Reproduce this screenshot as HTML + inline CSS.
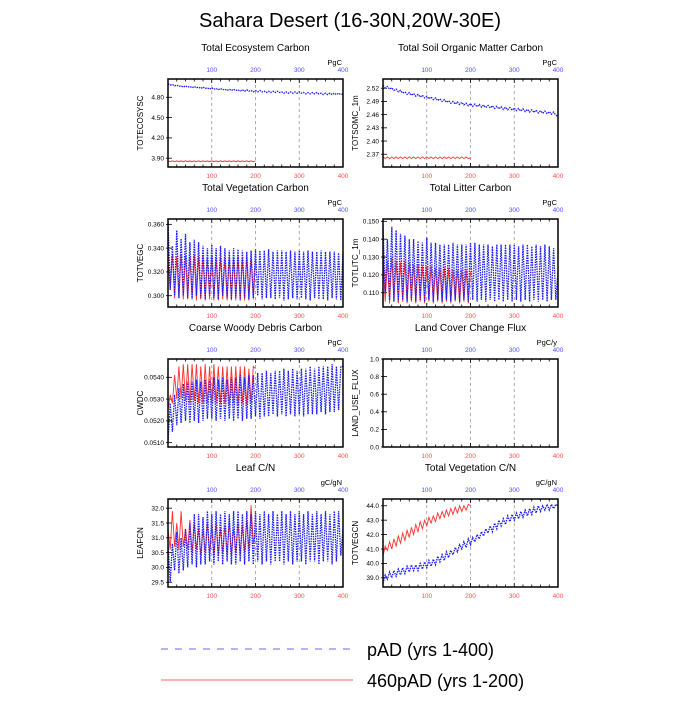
<!DOCTYPE html>
<html><head><meta charset="utf-8"><style>
body{margin:0;background:#fff;}
svg text{font-family:"Liberation Sans",sans-serif;}
</style></head><body>
<svg id="chart" width="700" height="700" viewBox="0 0 700 700" xmlns="http://www.w3.org/2000/svg">
<text x="350" y="27" font-size="20" text-anchor="middle">Sahara Desert (16-30N,20W-30E)</text>
<g id="panels"></g>
<g>
<line x1="161" y1="649" x2="353" y2="649" stroke="#6a6aee" stroke-width="1" stroke-dasharray="7,7"/>
<text x="367" y="656" font-size="18">pAD (yrs 1-400)</text>
<line x1="161" y1="680" x2="353" y2="680" stroke="#ff6060" stroke-width="1"/>
<text x="367" y="687" font-size="18">460pAD (yrs 1-200)</text>
</g>
</svg>
<script>
const titles=["Total Ecosystem Carbon","Total Soil Organic Matter Carbon","Total Vegetation Carbon","Total Litter Carbon","Coarse Woody Debris Carbon","Land Cover Change Flux","Leaf C/N","Total Vegetation C/N"];
const ytitles=["TOTECOSYSC","TOTSOMC_1m","TOTVEGC","TOTLITC_1m","CWDC","LAND_USE_FLUX","LEAFCN","TOTVEGCN"];
const units=["PgC","PgC","PgC","PgC","PgC","PgC/y","gC/gN","gC/gN"];
const yRanges=[[3.77,5.07],[2.341,2.541],[0.2905,0.3645],[0.102,0.1513],[0.0508,0.05484],[0,1],[29.34,32.31],[38.36,44.47]];
const yTicks=[[3.90,4.20,4.50,4.80],[2.37,2.40,2.43,2.46,2.49,2.52],[0.300,0.320,0.340,0.360],[0.110,0.120,0.130,0.140,0.150],[0.0510,0.0520,0.0530,0.0540],[0,0.2,0.4,0.6,0.8,1.0],[29.5,30.0,30.5,31.0,31.5,32.0],[39,40,41,42,43,44]];
const yDec=[2,2,3,3,4,1,1,1];
const xTicks=[100,200,300,400];
const blueStep=5, redStep=5;
const blue1=[5.00,4.98,4.99,4.97,4.98,4.96,4.97,4.95,4.97,4.95,4.96,4.94,4.96,4.94,4.95,4.93,4.95,4.93,4.94,4.92,4.94,4.92,4.93,4.91,4.93,4.91,4.92,4.90,4.92,4.90,4.92,4.90,4.91,4.89,4.91,4.89,4.91,4.89,4.90,4.88,4.90,4.88,4.90,4.88,4.89,4.87,4.89,4.87,4.89,4.87,4.89,4.87,4.88,4.86,4.88,4.86,4.88,4.86,4.88,4.86,4.88,4.86,4.87,4.85,4.87,4.85,4.87,4.85,4.87,4.85,4.86,4.84,4.86,4.84,4.86,4.84,4.86,4.84,4.86,4.84,4.85];
const red1=[3.86,3.85,3.86,3.85,3.86,3.85,3.86,3.85,3.86,3.85,3.86,3.85,3.86,3.85,3.86,3.85,3.86,3.85,3.86,3.85,3.86,3.85,3.86,3.85,3.86,3.85,3.86,3.85,3.86,3.85,3.86,3.85,3.86,3.85,3.86,3.85,3.86,3.85,3.86,3.85,3.86];
const blue2=[2.527,2.521,2.524,2.518,2.521,2.515,2.518,2.512,2.515,2.509,2.512,2.506,2.510,2.504,2.508,2.502,2.506,2.500,2.504,2.498,2.502,2.496,2.500,2.494,2.498,2.492,2.496,2.490,2.494,2.488,2.492,2.486,2.490,2.484,2.489,2.483,2.488,2.482,2.486,2.480,2.485,2.479,2.484,2.478,2.483,2.477,2.482,2.476,2.481,2.475,2.480,2.474,2.479,2.473,2.478,2.472,2.477,2.471,2.476,2.470,2.475,2.469,2.474,2.468,2.473,2.467,2.472,2.466,2.471,2.465,2.470,2.464,2.469,2.463,2.468,2.462,2.467,2.461,2.466,2.459,2.456];
const red2=[2.364,2.360,2.364,2.360,2.364,2.360,2.364,2.360,2.364,2.360,2.364,2.360,2.364,2.360,2.364,2.360,2.364,2.360,2.364,2.360,2.364,2.360,2.364,2.360,2.364,2.360,2.364,2.360,2.364,2.360,2.364,2.360,2.364,2.360,2.364,2.360,2.364,2.360,2.364,2.360,2.362];
const blue3=[0.362,0.305,0.342,0.300,0.355,0.298,0.348,0.300,0.352,0.298,0.345,0.297,0.347,0.300,0.345,0.298,0.342,0.297,0.340,0.300,0.343,0.298,0.340,0.297,0.342,0.300,0.340,0.298,0.338,0.297,0.340,0.298,0.339,0.296,0.338,0.298,0.337,0.297,0.338,0.298,0.339,0.300,0.338,0.297,0.338,0.298,0.339,0.298,0.337,0.297,0.338,0.298,0.338,0.296,0.337,0.297,0.338,0.298,0.337,0.297,0.338,0.298,0.337,0.297,0.338,0.296,0.337,0.298,0.337,0.297,0.338,0.297,0.337,0.296,0.337,0.298,0.337,0.297,0.336,0.296,0.336];
const red3=[0.330,0.305,0.335,0.298,0.333,0.298,0.335,0.297,0.334,0.297,0.333,0.298,0.334,0.296,0.333,0.297,0.333,0.296,0.332,0.297,0.333,0.296,0.332,0.296,0.333,0.297,0.332,0.296,0.333,0.296,0.332,0.296,0.333,0.296,0.332,0.296,0.333,0.296,0.332,0.297,0.330];
const blue4=[0.148,0.110,0.140,0.106,0.147,0.105,0.145,0.105,0.143,0.106,0.142,0.105,0.140,0.106,0.140,0.105,0.139,0.106,0.138,0.105,0.141,0.106,0.138,0.105,0.138,0.106,0.137,0.105,0.137,0.106,0.137,0.105,0.138,0.106,0.137,0.105,0.137,0.106,0.137,0.105,0.138,0.106,0.138,0.105,0.137,0.106,0.137,0.105,0.137,0.106,0.136,0.105,0.137,0.106,0.137,0.105,0.137,0.106,0.137,0.105,0.137,0.106,0.136,0.105,0.137,0.106,0.137,0.105,0.136,0.106,0.137,0.105,0.136,0.106,0.137,0.105,0.136,0.106,0.135,0.106,0.122];
const red4=[0.130,0.105,0.128,0.104,0.130,0.105,0.128,0.104,0.127,0.105,0.128,0.104,0.127,0.105,0.126,0.104,0.126,0.105,0.125,0.104,0.125,0.105,0.125,0.104,0.124,0.105,0.124,0.104,0.124,0.105,0.124,0.104,0.123,0.105,0.123,0.104,0.123,0.105,0.123,0.104,0.122];
const blue5=[0.0510,0.0528,0.0515,0.0532,0.0518,0.0535,0.0519,0.0537,0.0520,0.0538,0.0519,0.0538,0.0520,0.0539,0.0519,0.0538,0.0520,0.0539,0.0521,0.0539,0.0521,0.0540,0.0520,0.0539,0.0521,0.0540,0.0520,0.0539,0.0521,0.0540,0.0520,0.0540,0.0521,0.0541,0.0520,0.0540,0.0521,0.0541,0.0521,0.0541,0.0522,0.0542,0.0521,0.0542,0.0522,0.0543,0.0522,0.0542,0.0523,0.0543,0.0522,0.0543,0.0523,0.0544,0.0522,0.0543,0.0523,0.0544,0.0522,0.0543,0.0523,0.0544,0.0522,0.0544,0.0523,0.0545,0.0523,0.0544,0.0523,0.0545,0.0524,0.0545,0.0523,0.0545,0.0524,0.0546,0.0524,0.0545,0.0525,0.0545,0.0545];
const red5=[0.0525,0.0532,0.0528,0.0541,0.0530,0.0545,0.0530,0.0546,0.0529,0.0546,0.0528,0.0546,0.0529,0.0546,0.0528,0.0545,0.0528,0.0546,0.0528,0.0545,0.0528,0.0546,0.0528,0.0545,0.0528,0.0545,0.0528,0.0545,0.0527,0.0545,0.0528,0.0545,0.0527,0.0545,0.0528,0.0545,0.0527,0.0544,0.0528,0.0545,0.0544];
const blue6=[];
const red6=[];
const blue7=[30.8,29.5,30.8,29.9,31.2,29.8,31.0,29.9,31.3,30.0,31.5,30.1,31.8,30.0,31.8,30.1,31.7,30.1,31.9,30.2,31.8,30.1,31.9,30.2,31.8,30.1,31.9,30.2,31.8,30.1,31.9,30.1,31.9,30.2,31.8,30.1,31.9,30.2,31.8,30.1,31.9,30.2,31.8,30.1,31.9,30.2,31.8,30.1,31.9,30.2,31.8,30.2,31.9,30.1,31.8,30.2,31.9,30.1,31.8,30.2,31.9,30.2,31.8,30.1,31.9,30.2,31.8,30.2,31.9,30.1,31.8,30.2,31.9,30.2,31.8,30.1,31.9,30.2,31.9,30.4,31.3];
const red7=[31.3,30.6,31.9,30.7,31.5,30.6,31.9,30.7,31.3,30.6,31.6,30.5,31.5,30.6,31.3,30.4,31.3,30.5,31.5,30.4,31.4,30.4,31.5,30.4,31.3,30.5,31.4,30.4,31.6,30.4,31.3,30.5,31.5,30.4,31.4,30.5,31.6,30.6,32.1,30.8,31.2];
const blue8=[38.6,39.2,38.9,39.4,39.0,39.5,39.1,39.6,39.2,39.7,39.3,39.8,39.4,39.9,39.5,39.9,39.5,40.0,39.6,40.1,39.7,40.2,39.8,40.3,39.9,40.5,40.1,40.6,40.2,40.8,40.4,40.9,40.6,41.1,40.8,41.3,41.0,41.5,41.1,41.7,41.3,41.8,41.5,42.0,41.7,42.2,41.9,42.4,42.1,42.6,42.2,42.8,42.4,43.0,42.6,43.1,42.7,43.3,42.9,43.4,43.0,43.5,43.1,43.6,43.2,43.7,43.3,43.8,43.4,43.9,43.5,44.0,43.6,44.0,43.7,44.1,43.7,44.1,43.8,44.1,44.0];
const red8=[40.5,41.2,40.9,41.5,41.0,41.7,41.2,41.9,41.4,42.1,41.6,42.3,41.8,42.5,42.0,42.7,42.2,42.9,42.4,43.0,42.6,43.2,42.8,43.3,42.9,43.5,43.1,43.6,43.2,43.7,43.3,43.8,43.4,43.9,43.5,44.0,43.6,44.0,43.7,44.1,44.0];
const blues=[blue1,blue2,blue3,blue4,blue5,blue6,blue7,blue8];
const reds=[red1,red2,red3,red4,red5,red6,red7,red8];

const NS="http://www.w3.org/2000/svg";
const root=document.getElementById('panels');
function mk(tag,attrs,parent){const e=document.createElementNS(NS,tag);for(const k in attrs)e.setAttribute(k,attrs[k]);parent.appendChild(e);return e;}
const colX=[168,383], rowY=[79,219,359,499], W=175, H=88;
for(let p=0;p<8;p++){
  const x0=colX[p%2], y0=rowY[Math.floor(p/2)];
  const [ymin,ymax]=yRanges[p];
  const xs=v=>x0+v/400*W;
  const ys=v=>y0+H-(v-ymin)/(ymax-ymin)*H;
  const g=mk('g',{},root);
  
  
  const t=mk('text',{x:x0+W/2,y:y0-28,'font-size':10,'text-anchor':'middle'},g);
  t.textContent=titles[p];
  
  
  const u=mk('text',{x:x0+W-1,y:y0-14,'font-size':7.5,'text-anchor':'end'},g);
  u.textContent=units[p];
  
  
  const yt=mk('text',{x:0,y:0,'font-size':8,'text-anchor':'middle',transform:`translate(${x0-25},${y0+H/2}) rotate(-90)`},g);
  yt.textContent=ytitles[p];
  
  
  // grid
  xTicks.forEach(v=>{ if(v<400){const l=mk('line',{x1:xs(v),x2:xs(v),y1:y0,y2:y0+H,stroke:'#999','stroke-width':0.8,'stroke-dasharray':'3,3'},g);
    
    }});
  // minor ticks
  for(let v=20;v<400;v+=20){
    mk('line',{x1:xs(v),x2:xs(v),y1:y0+H,y2:y0+H-(v%100?2.5:4),stroke:'#000','stroke-width':0.8},g);
    mk('line',{x1:xs(v),x2:xs(v),y1:y0,y2:y0+(v%100?2.5:4),stroke:'#000','stroke-width':0.8},g);
  }
  xTicks.forEach(v=>{
    const a=mk('text',{x:xs(v),y:y0+H+11,'font-size':6.5,'text-anchor':'middle',fill:'#ff5050'},g);
    a.textContent=v;
    
    
    const b=mk('text',{x:xs(v),y:y0-7,'font-size':6.5,'text-anchor':'middle',fill:'#5050ff'},g);
    b.textContent=v;
    
    
  });
  yTicks[p].forEach(v=>{
    mk('line',{x1:x0,x2:x0+4,y1:ys(v),y2:ys(v),stroke:'#000','stroke-width':0.8},g);
    mk('line',{x1:x0-2,x2:x0,y1:ys(v),y2:ys(v),stroke:'#000','stroke-width':0.8},g);
    const a=mk('text',{x:x0-4,y:ys(v)+2.3,'font-size':6.5,'text-anchor':'end'},g);
    a.textContent=v.toFixed(yDec[p]);
    
    
  });
  const clipId='c'+p;
  const cp=mk('clipPath',{id:clipId},g); mk('rect',{x:x0,y:y0,width:W,height:H},cp);
  if(reds[p].length){
    const d=reds[p].map((v,i)=>(i?'L':'M')+xs(i*redStep).toFixed(1)+','+ys(v).toFixed(1)).join('');
    const r=mk('path',{d:d,fill:'none',stroke:'#ff3030','stroke-width':0.9,'clip-path':`url(#${clipId})`},g);
    
    
  }
  if(blues[p].length){
    const d=blues[p].map((v,i)=>(i?'L':'M')+xs(i*blueStep).toFixed(1)+','+ys(v).toFixed(1)).join('');
    const b=mk('path',{d:d,fill:'none',stroke:'#1a1aff','stroke-width':1.3,'stroke-dasharray':'1.5,1','clip-path':`url(#${clipId})`},g);
    
    
  }
  const box=mk('rect',{x:x0,y:y0,width:W,height:H,fill:'none',stroke:'#000','stroke-width':1.5},g);
  
  
}
</script>
</body></html>
